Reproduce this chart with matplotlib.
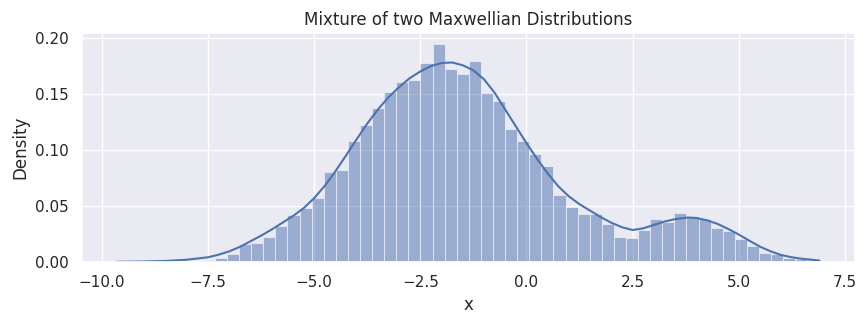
import numpy as np
import matplotlib
matplotlib.use("Agg")
import matplotlib.pyplot as plt
import seaborn as sns

# histogram (density): 58 equal bins
bin_start = -9.62
bin_width = 0.2849
bar_heights = [
    0.0001, 0.0002, 0.0002, 0.0004, 0.0005, 0.0008, 0.0012, 0.0019,
    0.0034, 0.0069, 0.0158, 0.0167, 0.0224, 0.0318, 0.0416, 0.0478,
    0.0567, 0.0806, 0.0819, 0.1082, 0.1224, 0.1375, 0.1520, 0.1606,
    0.1623, 0.1774, 0.1943, 0.1721, 0.1677, 0.1792, 0.1508, 0.1432,
    0.1183, 0.1082, 0.0966, 0.0860, 0.0593, 0.0493, 0.0426, 0.0432,
    0.0335, 0.0220, 0.0211, 0.0282, 0.0379, 0.0355, 0.0433, 0.0407,
    0.0380, 0.0300, 0.0274, 0.0206, 0.0140, 0.0078, 0.0073, 0.0037,
    0.0022, 0.0013,
]

# kde curve, sampled by eye
kde_x = [-9.65, -9.0, -8.5, -8.0, -7.5, -7.25, -7.0, -6.75, -6.5, -6.25,
         -6.0, -5.75, -5.5, -5.25, -5.0, -4.75, -4.5, -4.25, -4.0, -3.75,
         -3.5, -3.25, -3.0, -2.75, -2.5, -2.25, -2.0, -1.75, -1.5, -1.25,
         -1.0, -0.75, -0.5, -0.25, 0.0, 0.25, 0.5, 0.75, 1.0, 1.25,
         1.5, 1.75, 2.0, 2.25, 2.5, 2.75, 3.0, 3.25, 3.5, 3.8,
         4.0, 4.25, 4.5, 4.75, 5.0, 5.25, 5.5, 5.75, 6.0, 6.25,
         6.5, 6.9]
kde_y = [0.0001, 0.0004, 0.0009, 0.0020, 0.0042, 0.0065, 0.0095, 0.0135, 0.0185, 0.0235,
         0.0290, 0.0350, 0.0410, 0.0480, 0.0570, 0.0680, 0.0810, 0.0950, 0.1095, 0.1235,
         0.1360, 0.1470, 0.1560, 0.1640, 0.1700, 0.1748, 0.1775, 0.1780, 0.1755, 0.1710,
         0.1630, 0.1510, 0.1360, 0.1210, 0.1060, 0.0920, 0.0790, 0.0675, 0.0585, 0.0515,
         0.0458, 0.0400, 0.0350, 0.0310, 0.0285, 0.0300, 0.0330, 0.0360, 0.0382, 0.0396,
         0.0392, 0.0372, 0.0340, 0.0295, 0.0245, 0.0190, 0.0137, 0.0095, 0.0062, 0.0042,
         0.0028, 0.0013]

sns.set_theme()

edges = bin_start + bin_width * np.arange(len(bar_heights) + 1)

fig, ax = plt.subplots(figsize=(8.65, 3.25), dpi=100)
ax.bar(edges[:-1], bar_heights, width=np.diff(edges), align="edge",
       color="C0", alpha=0.5, edgecolor="white", linewidth=0.75)
ax.plot(kde_x, kde_y, color="C0", linewidth=1.5)

ax.set_title("Mixture of two Maxwellian Distributions")
ax.set_xlabel("x")
ax.set_ylabel("Density")

fig.subplots_adjust(left=0.0945, right=0.988, top=0.8975, bottom=0.194)
fig.savefig("out.png")
